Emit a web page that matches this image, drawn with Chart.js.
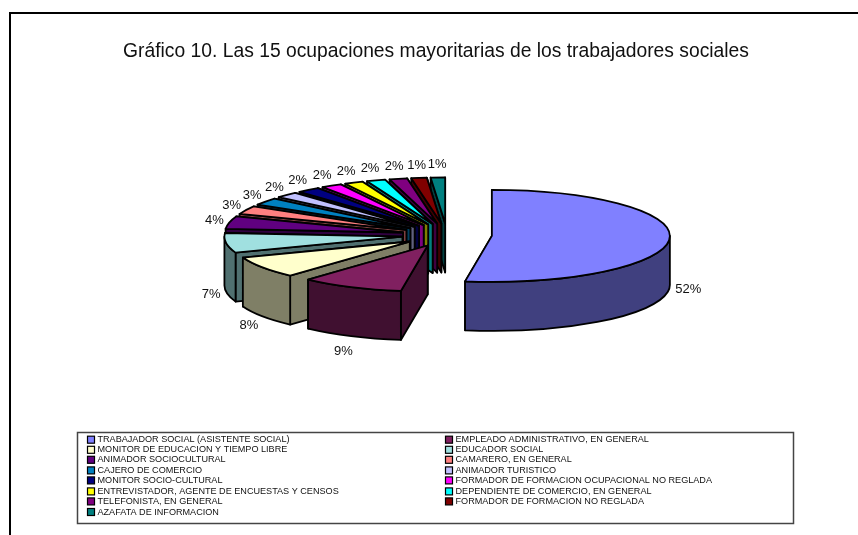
<!DOCTYPE html>
<html>
<head>
<meta charset="utf-8">
<style>html,body{margin:0;padding:0;background:#fff}canvas{display:block}</style>
<script src="https://cdn.jsdelivr.net/npm/chart.js@4"></script>
</head>
<body>
<canvas id="c" width="858" height="535"></canvas>
<script>
const titleText = "Gráfico 10. Las 15 ocupaciones mayoritarias de los trabajadores sociales";
const categories = [
  "TRABAJADOR SOCIAL (ASISTENTE SOCIAL)",
  "EMPLEADO ADMINISTRATIVO, EN GENERAL",
  "MONITOR DE EDUCACION Y TIEMPO LIBRE",
  "EDUCADOR SOCIAL",
  "ANIMADOR SOCIOCULTURAL",
  "CAMARERO, EN GENERAL",
  "CAJERO DE COMERCIO",
  "ANIMADOR TURISTICO",
  "MONITOR SOCIO-CULTURAL",
  "FORMADOR DE FORMACION OCUPACIONAL NO REGLADA",
  "ENTREVISTADOR, AGENTE DE ENCUESTAS Y CENSOS",
  "DEPENDIENTE DE COMERCIO, EN GENERAL",
  "TELEFONISTA, EN GENERAL",
  "FORMADOR DE FORMACION NO REGLADA",
  "AZAFATA DE INFORMACION"
];
const values = [52.3, 9.3, 7.6, 6.9, 4.4, 2.9, 2.6, 2.1, 2.1, 1.9, 1.7, 1.7, 1.6, 1.4, 1.3];
const colors = ["#8080FF","#802060","#FFFFCC","#A0E0E0","#600080","#FF8080","#0080C0","#C0C0FF",
                "#000080","#FF00FF","#FFFF00","#00FFFF","#800080","#800000","#008080"];

const PIE = {cx:447, cy:235, radius:178, tilt:0.2584, depth:49, explode:45, line:1.8};
const LABEL = {gap:19, font:'13px "Liberation Sans"', frontShift:12, backShift:8, leftPull:4};
const LEGEND = {x:77.5, y:432.5, w:716, h:91, col:[87.5,445.5], textDx:10, rows:[439.7,449.8,459.8,470.4,480.4,491.4,501.4,512],
                font:'9.1px "Liberation Sans"'};

function darken(hex){
  const n = parseInt(hex.slice(1),16);
  return 'rgb('+((n>>16&255)>>1)+','+((n>>8&255)>>1)+','+((n&255)>>1)+')';
}
function sliceGeom(arc){
  const p = arc.getProps(['x','y','startAngle','endAngle','outerRadius'], true);
  const mid = (p.startAngle+p.endAngle)/2;
  const cx = PIE.cx + Math.cos(mid)*PIE.explode;
  const cy = PIE.cy + Math.sin(mid)*PIE.explode*PIE.tilt;
  return {...p, mid, cx, cy, r:p.outerRadius, ry:p.outerRadius*PIE.tilt};
}
function drawSlice(ctx, arc, i){
  const g = sliceGeom(arc), d = PIE.depth, dark = darken(colors[i]);
  const pt = a => [g.cx+g.r*Math.cos(a), g.cy+g.ry*Math.sin(a)];
  ctx.save();
  ctx.lineWidth = PIE.line; ctx.strokeStyle = '#000'; ctx.lineJoin = 'round'; ctx.fillStyle = dark;
  [g.endAngle, g.startAngle].forEach(a => {
    const [x,y] = pt(a);
    ctx.beginPath(); ctx.moveTo(g.cx,g.cy); ctx.lineTo(x,y); ctx.lineTo(x,y+d); ctx.lineTo(g.cx,g.cy+d); ctx.closePath();
    ctx.fill(); ctx.stroke();
  });
  const lo = Math.max(g.startAngle,0), hi = Math.min(g.endAngle,Math.PI);
  if (hi > lo){
    ctx.beginPath();
    ctx.ellipse(g.cx,g.cy,g.r,g.ry,0,lo,hi);
    ctx.ellipse(g.cx,g.cy+d,g.r,g.ry,0,hi,lo,true);
    ctx.closePath(); ctx.fill(); ctx.stroke();
  }
  // top face: the library's own arc, squashed into the tilted plane
  ctx.save();
  ctx.translate(g.cx,g.cy); ctx.scale(1,PIE.tilt); ctx.translate(-g.x,-g.y);
  arc.draw(ctx);
  ctx.restore();
  ctx.beginPath();
  ctx.moveTo(g.cx,g.cy);
  ctx.ellipse(g.cx,g.cy,g.r,g.ry,0,g.startAngle,g.endAngle);
  ctx.closePath(); ctx.stroke();
  ctx.restore();
}
const pie3d = {
  id:'pie3d',
  beforeDraw(chart){
    const ctx = chart.ctx;
    ctx.save();
    ctx.fillStyle = '#fff'; ctx.fillRect(0,0,chart.width,chart.height);
    ctx.fillStyle = '#000';
    ctx.fillRect(9,12,chart.width-9,2);
    ctx.fillRect(9,12,2,chart.height-12);
    ctx.restore();
  },
  beforeDatasetDraw(chart){
    const ctx = chart.ctx, arcs = chart.getDatasetMeta(0).data;
    drawSlice(ctx, arcs[0], 0);
    for (let i = arcs.length-1; i >= 1; i--) drawSlice(ctx, arcs[i], i);
    return false;
  },
  afterDraw(chart){
    const ctx = chart.ctx, arcs = chart.getDatasetMeta(0).data;
    const total = values.reduce((a,b)=>a+b,0);
    ctx.save();
    ctx.fillStyle = '#111'; ctx.font = LABEL.font; ctx.textAlign = 'center'; ctx.textBaseline = 'middle';
    arcs.forEach((arc,i)=>{
      const g = sliceGeom(arc), s = Math.sin(g.mid), c = Math.cos(g.mid), rr = g.r+LABEL.gap;
      const x = g.cx+rr*c+(c<0 ? LABEL.leftPull*Math.pow(-c,3) : 0);
      const y = g.cy+rr*PIE.tilt*s+(s>0 ? PIE.depth+LABEL.frontShift*s : -LABEL.backShift*Math.pow(-s,1.5));
      ctx.fillText(Math.round(values[i]/total*100)+'%', x, y);
    });
    // legend
    ctx.lineWidth = 1.5; ctx.strokeStyle = '#444';
    ctx.strokeRect(LEGEND.x,LEGEND.y,LEGEND.w,LEGEND.h);
    ctx.font = LEGEND.font; ctx.textAlign = 'left'; ctx.lineWidth = 1.2;
    categories.forEach((c,i)=>{
      const col = i%2, row = (i-col)/2, x = LEGEND.col[col], y = LEGEND.rows[row];
      ctx.fillStyle = colors[i]; ctx.fillRect(x,y-3.5,7,7);
      ctx.strokeStyle = '#000'; ctx.strokeRect(x,y-3.5,7,7);
      ctx.fillStyle = '#111'; ctx.fillText(c, x+LEGEND.textDx, y);
    });
    ctx.restore();
  }
};
new Chart(document.getElementById('c'),{
  type:'pie',
  data:{labels:categories,datasets:[{data:values,backgroundColor:colors,borderWidth:0,radius:PIE.radius}]},
  options:{
    responsive:false,animation:false,
    layout:{padding:{left:14}},
    plugins:{
      legend:{display:false},tooltip:{enabled:false},
      title:{display:true,text:titleText,color:'#111',
        font:{family:'"Liberation Sans"',size:19.3,weight:'normal'},padding:{top:40,bottom:10}}
    }
  },
  plugins:[pie3d]
});
</script>
</body>
</html>
